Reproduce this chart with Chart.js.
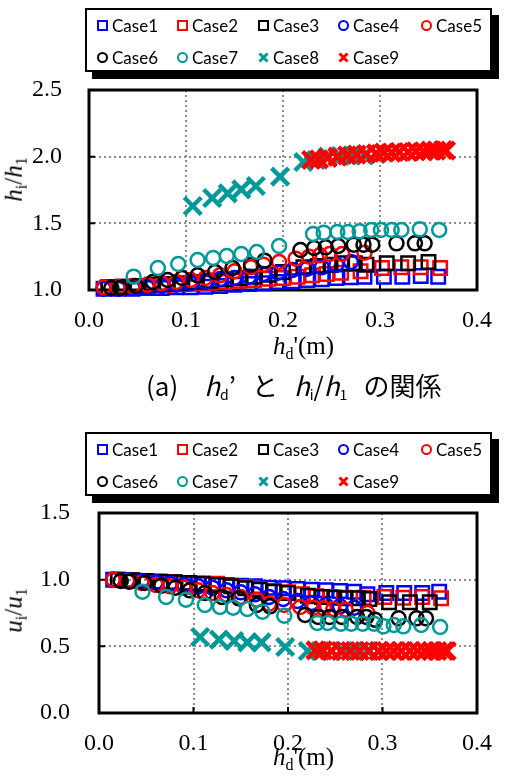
<!DOCTYPE html>
<html>
<head>
<meta charset="utf-8">
<script src="https://cdn.jsdelivr.net/npm/chart.js@4.4.0/dist/chart.umd.min.js"></script>
<style>
  body { margin: 0; background: #fff; }
  #page { position: relative; width: 508px; height: 781px; overflow: hidden; background: #fff; }
  .cv { position: absolute; left: 0; }
  .legend { position: absolute; left: 85px; width: 403px; height: 60px; border: 2px solid #000;
            background: #fff; box-shadow: 7px 7px 0 #000; font-family: Lato, sans-serif; font-size: 17px; }
  .item { position: absolute; height: 20px; display: flex; align-items: center; white-space: nowrap; }
  .item svg { margin-right: 4px; }
  .ttl { position: absolute; font-family: "Liberation Serif", serif; font-size: 25px; white-space: nowrap; line-height: 1; }
  .ttl sub { font-size: 16px; vertical-align: -5px; }
  .ttl i { font-style: italic; }
  .caption { position: absolute; top: 369px; left: 146px; white-space: nowrap; line-height: 1.2;
             font-family: "Noto Sans CJK JP", sans-serif; font-size: 26px; }
  .caption sub { font-size: 14px; vertical-align: -4px; }
  .caption span { margin-left: 16px; }
  .caption span.first { margin-left: 0; }
  .caption span.gap { margin-left: 26px; }
</style>
</head>
<body>
<div id="page">
  <canvas id="chartA" class="cv" style="top:0" width="508" height="400"></canvas>
  <canvas id="chartB" class="cv" style="top:400px" width="508" height="381"></canvas>
  <div class="legend" id="legendA" style="top:8px"></div>
  <div class="legend" id="legendB" style="top:432px"></div>
  <div class="ttl" style="left:273px; top:333px"><i>h</i><sub>d</sub>'(m)</div>
  <div class="ttl" style="left:-7px; top:165px; transform: rotate(-90deg)"><i>h</i><sub>i</sub>/<i>h</i><sub>1</sub></div>
  <div class="caption"><span class="first">(a)</span><span class="gap"><i>h</i><sub>d</sub>’</span><span>と</span><span><i>h</i><sub>i</sub>/<i>h</i><sub>1</sub></span><span>の関係</span></div>
  <div class="ttl" style="left:273px; top:744px"><i>h</i><sub>d</sub>'(m)</div>
  <div class="ttl" style="left:-7px; top:596px; transform: rotate(-90deg)"><i>u</i><sub>i</sub>/<i>u</i><sub>1</sub></div>
</div>
<script>
const caseNames = ['Case1', 'Case2', 'Case3', 'Case4', 'Case5', 'Case6', 'Case7', 'Case8', 'Case9'];
const caseColors = ['#0000ff', '#ff0000', '#000000', '#0000ff', '#ff0000', '#000000', '#009999', '#009999', '#ff0000'];
const caseMarkers = ['rect', 'rect', 'rect', 'circle', 'circle', 'circle', 'circle', 'crossRot', 'crossRot'];

const xTicks = [0.0, 0.1, 0.2, 0.3, 0.4];
const hTicks = [1.0, 1.5, 2.0, 2.5];
const uTicks = [0.0, 0.5, 1.0, 1.5];

// hd'(m)
const case1X = [0.015, 0.03, 0.045, 0.06, 0.075, 0.09, 0.105, 0.12, 0.135, 0.15, 0.165, 0.18, 0.195, 0.21, 0.225, 0.24, 0.255, 0.27, 0.284, 0.304, 0.323, 0.342, 0.36];
const case2X = [0.02, 0.035, 0.05, 0.065, 0.08, 0.095, 0.11, 0.125, 0.14, 0.155, 0.17, 0.185, 0.2, 0.215, 0.23, 0.245, 0.26, 0.28, 0.302, 0.322, 0.342, 0.362];
const case3X = [0.02, 0.035, 0.05, 0.065, 0.08, 0.095, 0.11, 0.125, 0.14, 0.155, 0.17, 0.185, 0.2, 0.221, 0.236, 0.249, 0.261, 0.274, 0.286, 0.307, 0.329, 0.35];
const case4X = [0.015, 0.03, 0.045, 0.06, 0.075, 0.09, 0.105, 0.12, 0.135, 0.15, 0.165, 0.18, 0.195, 0.21, 0.225, 0.24, 0.255, 0.27];
const case5X = [0.015, 0.03, 0.045, 0.06, 0.075, 0.09, 0.105, 0.12, 0.135, 0.15, 0.167, 0.18, 0.196, 0.213, 0.227, 0.238, 0.248, 0.261, 0.284];
const case6X = [0.023, 0.032, 0.048, 0.066, 0.081, 0.096, 0.112, 0.13, 0.148, 0.167, 0.181, 0.218, 0.232, 0.244, 0.257, 0.273, 0.283, 0.292, 0.317, 0.336, 0.346];
const case7X = [0.046, 0.071, 0.092, 0.112, 0.128, 0.142, 0.157, 0.173, 0.196, 0.231, 0.242, 0.256, 0.267, 0.279, 0.291, 0.301, 0.312, 0.322, 0.341, 0.361];
const case8X = [0.107, 0.127, 0.143, 0.157, 0.172, 0.197, 0.221, 0.234, 0.246, 0.259, 0.271, 0.284, 0.296];
const case9X = [0.229, 0.237, 0.246, 0.256, 0.266, 0.276, 0.286, 0.296, 0.304, 0.312, 0.32, 0.329, 0.337, 0.345, 0.352, 0.358, 0.365, 0.368];

// hi/h1
const case1H = [1.01, 1.01, 1.01, 1.015, 1.015, 1.02, 1.02, 1.025, 1.03, 1.04, 1.045, 1.05, 1.06, 1.065, 1.075, 1.08, 1.09, 1.095, 1.1, 1.1, 1.1, 1.105, 1.1];
const case2H = [1.02, 1.025, 1.03, 1.035, 1.04, 1.045, 1.05, 1.055, 1.06, 1.07, 1.075, 1.085, 1.09, 1.1, 1.11, 1.12, 1.13, 1.14, 1.165, 1.17, 1.17, 1.165];
const case3H = [1.02, 1.025, 1.03, 1.04, 1.045, 1.05, 1.06, 1.07, 1.08, 1.09, 1.1, 1.115, 1.135, 1.17, 1.18, 1.19, 1.2, 1.2, 1.19, 1.2, 1.2, 1.21];
const case4H = [1.01, 1.01, 1.015, 1.02, 1.03, 1.04, 1.05, 1.06, 1.08, 1.09, 1.1, 1.12, 1.13, 1.15, 1.16, 1.17, 1.19, 1.21];
const case5H = [1.02, 1.02, 1.03, 1.04, 1.05, 1.06, 1.075, 1.09, 1.11, 1.14, 1.17, 1.19, 1.21, 1.235, 1.25, 1.26, 1.27, 1.27, 1.28];
const case6H = [1.015, 1.015, 1.03, 1.06, 1.075, 1.09, 1.11, 1.135, 1.165, 1.19, 1.22, 1.3, 1.315, 1.32, 1.33, 1.34, 1.34, 1.34, 1.35, 1.35, 1.35];
const case7H = [1.1, 1.165, 1.195, 1.225, 1.24, 1.255, 1.27, 1.285, 1.33, 1.42, 1.43, 1.435, 1.435, 1.44, 1.45, 1.45, 1.45, 1.45, 1.455, 1.45];
const case8H = [1.63, 1.69, 1.725, 1.755, 1.78, 1.85, 1.96, 1.975, 2.0, 2.005, 2.01, 2.01, 2.02];
const case9H = [1.975, 1.98, 1.99, 2.0, 2.01, 2.015, 2.02, 2.025, 2.03, 2.03, 2.035, 2.035, 2.04, 2.04, 2.045, 2.045, 2.05, 2.045];

// ui/u1
const case1U = [1.0, 0.995, 0.99, 0.985, 0.98, 0.975, 0.97, 0.965, 0.96, 0.955, 0.95, 0.94, 0.935, 0.93, 0.925, 0.92, 0.915, 0.91, 0.89, 0.9, 0.9, 0.9, 0.91];
const case2U = [1.0, 0.995, 0.99, 0.985, 0.98, 0.975, 0.97, 0.97, 0.955, 0.945, 0.93, 0.915, 0.905, 0.89, 0.875, 0.87, 0.865, 0.865, 0.87, 0.865, 0.87, 0.86];
const case3U = [1.0, 0.995, 0.99, 0.985, 0.98, 0.975, 0.97, 0.96, 0.95, 0.935, 0.925, 0.91, 0.9, 0.88, 0.87, 0.865, 0.86, 0.86, 0.855, 0.83, 0.83, 0.83];
const case4U = [1.0, 0.995, 0.99, 0.98, 0.97, 0.96, 0.95, 0.94, 0.92, 0.905, 0.89, 0.87, 0.855, 0.84, 0.825, 0.81, 0.8, 0.79];
const case5U = [1.0, 0.99, 0.975, 0.96, 0.95, 0.94, 0.92, 0.9, 0.885, 0.87, 0.85, 0.82, 0.81, 0.795, 0.79, 0.785, 0.78, 0.775, 0.75];
const case6U = [0.99, 0.985, 0.975, 0.955, 0.94, 0.92, 0.9, 0.87, 0.86, 0.81, 0.8, 0.735, 0.72, 0.72, 0.72, 0.72, 0.72, 0.7, 0.71, 0.71, 0.71];
const case7U = [0.91, 0.87, 0.85, 0.81, 0.795, 0.79, 0.78, 0.76, 0.73, 0.675, 0.675, 0.67, 0.67, 0.67, 0.67, 0.65, 0.66, 0.65, 0.66, 0.645];
const case8U = [0.57, 0.55, 0.54, 0.53, 0.53, 0.495, 0.465, 0.465, 0.465, 0.465, 0.465, 0.465, 0.465];
const case9U = [0.47, 0.47, 0.465, 0.465, 0.465, 0.465, 0.465, 0.465, 0.465, 0.465, 0.465, 0.465, 0.465, 0.465, 0.465, 0.465, 0.465, 0.465];

const allX = [case1X, case2X, case3X, case4X, case5X, case6X, case7X, case8X, case9X];
const allH = [case1H, case2H, case3H, case4H, case5H, case6H, case7H, case8H, case9H];
const allU = [case1U, case2U, case3U, case4U, case5U, case6U, case7U, case8U, case9U];

function makeDatasets(ys) {
  return caseNames.map((name, i) => {
    const cross = caseMarkers[i] === 'crossRot';
    return {
      label: name,
      data: allX[i].map((x, k) => ({ x: x, y: ys[i][k] })),
      pointStyle: caseMarkers[i],
      pointRadius: caseMarkers[i] === 'rect' ? 9.5 : (cross ? 12 : 7),
      pointBorderWidth: cross ? 4.5 : 2.5,
      borderColor: caseColors[i],
      backgroundColor: 'rgba(0,0,0,0)',
      showLine: false,
      clip: false,
      order: caseNames.length - i
    };
  });
}

// frame around the plot plus short inward ticks
const framePlugin = {
  id: 'frame',
  beforeDatasetsDraw(chart) {
    const { ctx, chartArea: a, scales } = chart;
    ctx.save();
    ctx.strokeStyle = '#000';
    ctx.lineWidth = 2;
    ctx.beginPath();
    scales.x.ticks.forEach(t => {
      const px = scales.x.getPixelForValue(t.value);
      ctx.moveTo(px, a.bottom);
      ctx.lineTo(px, a.bottom - 6);
    });
    scales.y.ticks.forEach(t => {
      const py = scales.y.getPixelForValue(t.value);
      ctx.moveTo(a.left, py);
      ctx.lineTo(a.left + 6, py);
    });
    ctx.stroke();
    ctx.lineWidth = 3;
    ctx.strokeRect(a.left, a.top, a.right - a.left, a.bottom - a.top);
    ctx.restore();
  }
};

function drawChart(id, ys, yTicks, opt) {
  const ctx = document.getElementById(id).getContext('2d');
  return new Chart(ctx, {
    type: 'scatter',
    data: { datasets: makeDatasets(ys) },
    plugins: [framePlugin],
    options: {
      responsive: false,
      animation: false,
      events: [],
      layout: { padding: { left: 0, right: opt.right, top: opt.top, bottom: 0 } },
      plugins: {
        legend: { display: false },
        tooltip: { enabled: false }
      },
      scales: {
        x: {
          type: 'linear',
          min: xTicks[0],
          max: xTicks[xTicks.length - 1],
          afterFit: s => { s.height = opt.xHeight; },
          afterBuildTicks: s => { s.ticks = xTicks.map(v => ({ value: v })); },
          ticks: {
            padding: 16,
            color: '#000',
            font: { family: 'Liberation Serif', size: 24 },
            callback: v => v.toFixed(1)
          },
          grid: { color: '#8c8c8c', lineWidth: 2, drawTicks: false },
          border: { display: false, dash: [2, 3] }
        },
        y: {
          type: 'linear',
          min: yTicks[0],
          max: yTicks[yTicks.length - 1],
          afterFit: s => { s.width = opt.yWidth; },
          afterBuildTicks: s => { s.ticks = yTicks.map(v => ({ value: v })); },
          ticks: {
            padding: opt.yPad,
            color: '#000',
            font: { family: 'Liberation Serif', size: 24 },
            callback: v => v.toFixed(1)
          },
          grid: { color: '#8c8c8c', lineWidth: 2, drawTicks: false },
          border: { display: false, dash: [2, 3] }
        }
      }
    }
  });
}

function buildLegend(id) {
  const box = document.getElementById(id);
  const colX = [10, 90, 171, 251, 334];
  caseNames.forEach((name, i) => {
    const item = document.createElement('div');
    item.className = 'item';
    item.style.left = colX[i % 5] + 'px';
    item.style.top = (i < 5 ? 5 : 37) + 'px';
    const c = caseColors[i];
    let svg;
    if (caseMarkers[i] === 'rect') {
      svg = '<rect x="1" y="1" width="9" height="9" fill="none" stroke="' + c + '" stroke-width="2"/>';
    } else if (caseMarkers[i] === 'circle') {
      svg = '<circle cx="5.5" cy="5.5" r="4.5" fill="none" stroke="' + c + '" stroke-width="2"/>';
    } else {
      svg = '<path d="M1.5 1.5 L9.5 9.5 M9.5 1.5 L1.5 9.5" stroke="' + c + '" stroke-width="3"/>';
    }
    item.innerHTML = '<svg width="11" height="11">' + svg + '</svg><span>' + name + '</span>';
    box.appendChild(item);
  });
}

buildLegend('legendA');
buildLegend('legendB');
drawChart('chartA', allH, hTicks, { top: 90, right: 16, xHeight: 110, yWidth: 89, yPad: 27 });
drawChart('chartB', allU, uTicks, { top: 113, right: 17, xHeight: 68, yWidth: 99, yPad: 29 });
</script>
</body>
</html>
